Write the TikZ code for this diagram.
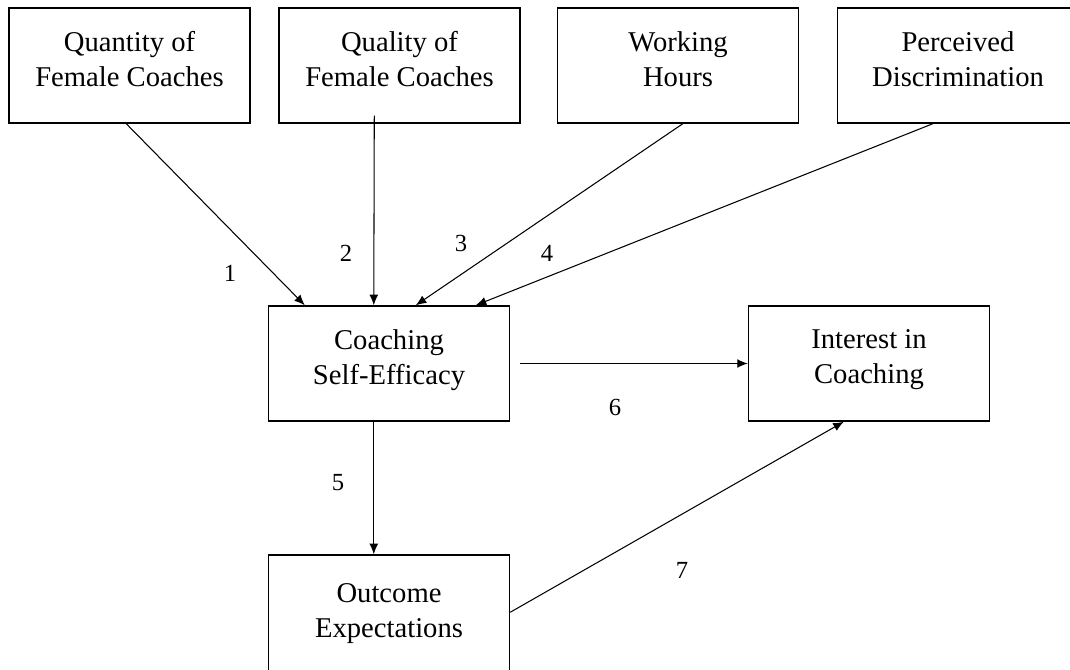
\documentclass[tikz,border=0pt]{standalone}
\usepackage{fontspec}
\setmainfont{Liberation Serif}
\usetikzlibrary{arrows.meta,calc}

\begin{document}
\begin{tikzpicture}[x=0.02cm,y=-0.02cm,
  box/.style={draw=black,line width=0.85pt,minimum width=4.82cm,minimum height=2.3cm,
    align=center,font=\fontsize{16.3}{19.9}\selectfont,inner sep=0pt,text depth=7.5pt},
  arr/.style={line width=0.6pt,-{Latex[length=6pt,width=5pt]}},
  num/.style={font=\fontsize{14}{16}\selectfont,inner sep=0pt}]
\useasboundingbox (0,0) rectangle (1070,669);
\node [box] (qn) at (129.5,65.5) {Quantity of\\Female Coaches};
\node [box] (ql) at (399.5,65.5) {Quality of\\Female Coaches};
\node [box] (wh) at (678,65.5) {Working\\Hours};
\node [box] (pd) at (958,65.5) {Perceived\\Discrimination};
\node [box] (se) at (389,363.5) {Coaching\\Self-Efficacy};
\node [box] (ic) at (869,363.5) {Interest in\\Coaching};
\node [box,minimum height=2.5cm] (oe) at (389,617.5) {Outcome\\Expectations};
\draw [arr] ($(qn.south west)+(118,0)$) -- ($(se.north west)+(37,0)$);
\draw [arr] ($(ql.south west)+(96,-8)$) -- ($(se.north west)+(106,0)$);
\draw [arr] ($(wh.south west)+(126,0)$) -- ($(se.north west)+(148,0)$);
\draw [arr] ($(pd.south west)+(96,0)$) -- ($(se.north west)+(208,0)$);
\draw [arr] ($(se.south west)+(106,0)$) -- ($(oe.north west)+(106,0)$);
\draw [arr] ($(se.east)+(10,0)$) -- (ic.west);
\draw [arr] ($(oe.north east)+(0,58)$) -- ($(ic.south west)+(96,0)$);
\node [num] (n1) at (230,273) {1};
\node [num] (n2) at (346,253) {2};
\node [num] (n3) at (461,243) {3};
\node [num] (n4) at (547,253) {4};
\node [num] (n5) at (338,483) {5};
\node [num] (n6) at (615,407) {6};
\node [num] (n7) at (682,570) {7};
\end{tikzpicture}
\end{document}
